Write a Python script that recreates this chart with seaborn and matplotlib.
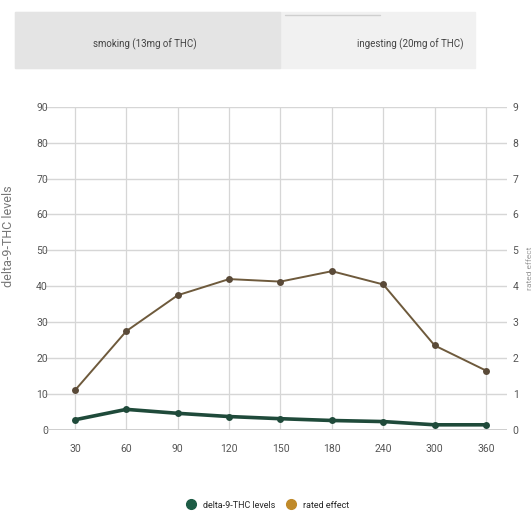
import pandas as pd
import numpy as np
import matplotlib
matplotlib.use("Agg")
import matplotlib.pyplot as plt
from matplotlib.patches import Rectangle
from matplotlib.lines import Line2D
import seaborn as sns

# datos
minutes = ["30", "60", "90", "120", "150", "180", "240", "300", "360"]
thc_levels = [2.8, 5.7, 4.6, 3.7, 3.1, 2.6, 2.3, 1.4, 1.4]
rated_effect = [1.1, 2.75, 3.75, 4.2, 4.13, 4.42, 4.05, 2.35, 1.65]
tab_labels = ["smoking (13mg of THC)", "ingesting (20mg of THC)"]
left_ticks = list(range(0, 100, 10))
right_ticks = list(range(0, 10))

sns.set_theme(style="white")
plt.rcParams['font.family'] = ['Roboto', 'DejaVu Sans']

df = pd.DataFrame({"minutes": minutes, "thc": thc_levels, "effect": rated_effect})

fig = plt.figure(figsize=(5.31, 5.21), dpi=100)
ax = fig.add_axes([0.085, 0.175, 0.87, 0.62])
ax2 = ax.twinx()

green = "#1f4a3a"
brown = "#6e5a3c"

sns.lineplot(data=df, x="minutes", y="thc", ax=ax, color=green, lw=2.6,
             marker="o", markersize=5, markeredgewidth=0, sort=False)
sns.lineplot(data=df, x="minutes", y="effect", ax=ax2, color=brown, lw=1.4,
             marker="o", markersize=5, markerfacecolor="#5a4a38",
             markeredgewidth=0, sort=False)

ax.set_xlim(-0.58, 8.41)
ax.set_ylim(0, 90)
ax2.set_ylim(0, 9)
ax.set_yticks(left_ticks)
ax2.set_yticks(right_ticks)
ax.set_xticks(range(len(minutes)))
ax.set_xticklabels(minutes)

for a in (ax, ax2):
    for s in a.spines.values():
        s.set_visible(False)
    a.tick_params(length=0, labelsize=7.5, colors="#555555")
ax.tick_params(axis="x", pad=10)
ax.tick_params(axis="y", pad=-2)
ax2.tick_params(axis="y", pad=4)

ax.grid(axis="y", color="#d6d6d6", lw=1)
for i in range(len(minutes)):
    ax.axvline(i, color="#d6d6d6", lw=0.9, zorder=0)
ax.axhline(0, color="#c8c8c8", lw=1.2)

ax.set_xlabel("")
ax.set_ylabel("delta-9-THC levels", fontsize=9, color="#777777")
ax.yaxis.set_label_coords(-0.065, 0.6)
ax2.set_ylabel("rated effect", fontsize=6, color="#999999")
ax2.yaxis.set_label_coords(1.042, 0.5)

# pestañas superiores
fig.patches.append(Rectangle((15 / 531, 1 - 68 / 521), 460 / 531, 56 / 521,
                             transform=fig.transFigure, color="#f1f1f1", zorder=0))
fig.patches.append(Rectangle((15 / 531, 1 - 68 / 521), 265 / 531, 56 / 521,
                             transform=fig.transFigure, color="#e4e4e4", zorder=0))
fig.add_artist(Line2D([285 / 531, 380 / 531], [1 - 15 / 521, 1 - 15 / 521],
                      transform=fig.transFigure, color="#cfcfcf", lw=1))
fig.text(145 / 531, 1 - 44 / 521, tab_labels[0], ha="center", va="center",
         fontsize=7, color="#444444")
fig.text(410 / 531, 1 - 44 / 521, tab_labels[1], ha="center", va="center",
         fontsize=7, color="#444444")

# leyenda
handles = [Line2D([], [], marker="o", ls="", color="#1d5c45", markersize=7),
           Line2D([], [], marker="o", ls="", color="#c08a2a", markersize=7)]
fig.legend(handles, ["delta-9-THC levels", "rated effect"], loc="center",
           bbox_to_anchor=(0.5, 1 - 505 / 521), ncol=2, frameon=False,
           fontsize=6.5, handletextpad=0.3, columnspacing=0.8)

fig.savefig("out.png", dpi=100)
